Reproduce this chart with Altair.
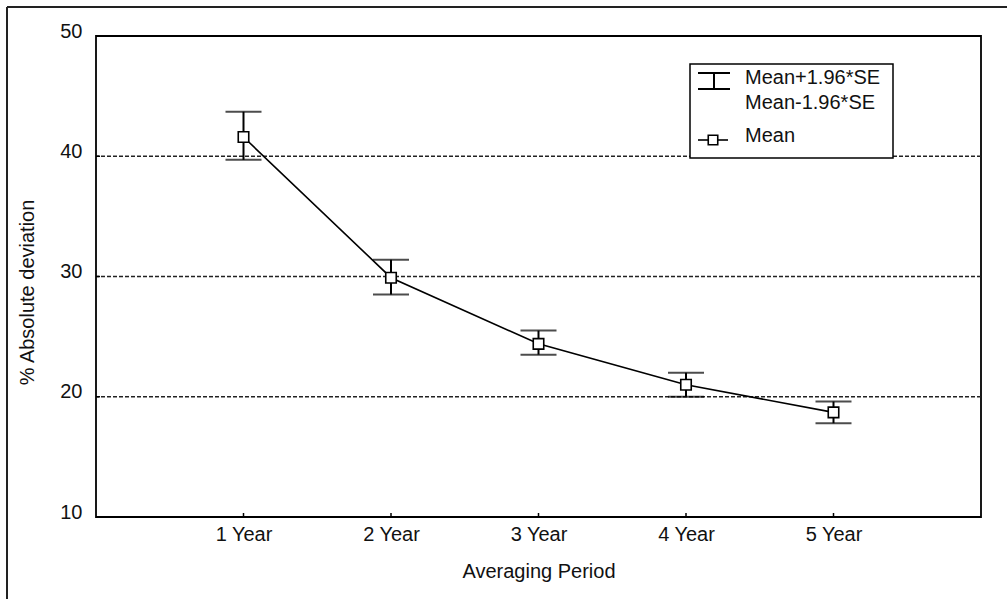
import altair as alt
import pandas as pd

# Averaging period and the mean absolute deviation with its 95% band
periods = ["1 Year", "2 Year", "3 Year", "4 Year", "5 Year"]
mean = [41.6, 29.9, 24.4, 21.0, 18.7]
upper = [43.7, 31.4, 25.5, 22.0, 19.6]
lower = [39.7, 28.5, 23.5, 20.0, 17.8]

y_ticks = [10, 20, 30, 40, 50]
grid_lines = [20, 30, 40]

FONT = "Liberation Sans"
FS = 20
W, H = 885, 481

df = pd.DataFrame({"period": periods, "mean": mean, "upper": upper, "lower": lower})
one = pd.DataFrame({"k": [0]})

x_enc = alt.X(
    "period:N",
    sort=periods,
    scale=alt.Scale(type="point", padding=1),
    axis=alt.Axis(
        title="Averaging Period", labelAngle=0, ticks=False, domain=False,
        labelPadding=7, titlePadding=17, labelFontSize=FS, titleFontSize=FS,
        labelFont=FONT, titleFont=FONT, labelColor="#111", titleColor="#111",
        titleFontWeight="normal",
    ),
)
y_scale = alt.Scale(domain=[10, 50], nice=False, zero=False)
y_axis = alt.Axis(
    title="% Absolute deviation", values=y_ticks, ticks=False, domain=False,
    grid=False, labelPadding=14, labelOffset=-5, labelFontSize=FS, titleFontSize=FS,
    labelFont=FONT, titleFont=FONT, labelColor="#111", titleColor="#111",
    titleFontWeight="normal", titleX=-69, titleY=256, titleAngle=-90,
    titleBaseline="middle", titleAlign="center",
)


def Y(field):
    return alt.Y(field, scale=y_scale, axis=y_axis)


base = alt.Chart(df)

grid = alt.Chart(pd.DataFrame({"g": grid_lines})).mark_rule(
    color="#222", strokeWidth=1.5, strokeDash=[4, 2]
).encode(y=Y("g:Q"))

whisk = base.mark_rule(color="black", strokeWidth=2).encode(
    x=x_enc, y=Y("lower:Q"), y2="upper:Q"
)
cap_hi = base.mark_tick(orient="horizontal", size=36, thickness=2, color="black").encode(
    x=x_enc, y=Y("upper:Q")
)
cap_lo = base.mark_tick(orient="horizontal", size=36, thickness=2, color="black").encode(
    x=x_enc, y=Y("lower:Q")
)
line = base.mark_line(color="black", strokeWidth=1.6).encode(x=x_enc, y=Y("mean:Q"))
pts = base.mark_point(
    shape="square", size=110, filled=True, fill="white", stroke="black",
    strokeWidth=1.6, opacity=1,
).encode(x=x_enc, y=Y("mean:Q"))

# inward tick marks
ytick = alt.Chart(pd.DataFrame({"t": y_ticks})).mark_rule(color="black", strokeWidth=1.5).encode(
    y=Y("t:Q"), x=alt.value(0), x2=alt.value(4)
)
xtick = base.mark_rule(color="black", strokeWidth=1.5).encode(
    x=x_enc, y=alt.value(H), y2=alt.value(H - 4)
)

# legend box
leg_box = alt.Chart(one).mark_rect(fill="white", stroke="black", strokeWidth=1.5).encode(
    x=alt.value(594), x2=alt.value(797), y=alt.value(28), y2=alt.value(122)
)
leg_cap1 = alt.Chart(one).mark_rule(color="black", strokeWidth=2).encode(
    x=alt.value(602), x2=alt.value(634), y=alt.value(37)
)
leg_cap2 = alt.Chart(one).mark_rule(color="black", strokeWidth=2).encode(
    x=alt.value(602), x2=alt.value(634), y=alt.value(53)
)
leg_stem = alt.Chart(one).mark_rule(color="black", strokeWidth=2).encode(
    x=alt.value(618), y=alt.value(37), y2=alt.value(53)
)
leg_line = alt.Chart(one).mark_rule(color="black", strokeWidth=1.6).encode(
    x=alt.value(602), x2=alt.value(632), y=alt.value(104)
)
leg_pt = alt.Chart(one).mark_point(
    shape="square", size=90, filled=True, fill="white", stroke="black",
    strokeWidth=1.6, opacity=1,
).encode(x=alt.value(617), y=alt.value(104))


def leg_text(txt, y):
    return alt.Chart(one).mark_text(
        text=txt, align="left", baseline="middle", font=FONT, fontSize=FS, color="#111"
    ).encode(x=alt.value(649), y=alt.value(y))


leg = [
    leg_box, leg_cap1, leg_cap2, leg_stem, leg_line, leg_pt,
    leg_text("Mean+1.96*SE", 42), leg_text("Mean-1.96*SE", 67), leg_text("Mean", 100),
]

# outer page frame
frame_top = alt.Chart(one).mark_rule(color="#222", strokeWidth=2).encode(
    x=alt.value(-89), x2=alt.value(W + 40), y=alt.value(-29)
)
frame_left = alt.Chart(one).mark_rule(color="#222", strokeWidth=2).encode(
    x=alt.value(-89), y=alt.value(-29), y2=alt.value(H + 100)
)

chart = alt.layer(
    grid, whisk, cap_hi, cap_lo, line, pts, ytick, xtick, *leg, frame_top, frame_left
).properties(
    width=W, height=H,
    autosize=alt.AutoSizeParams(type="none"),
    padding={"left": 96, "top": 36, "right": 26, "bottom": 82},
    background="white",
).configure_view(stroke="black", strokeWidth=1.8)

chart.save("out.html", embed_options={"renderer": "svg", "actions": False})
